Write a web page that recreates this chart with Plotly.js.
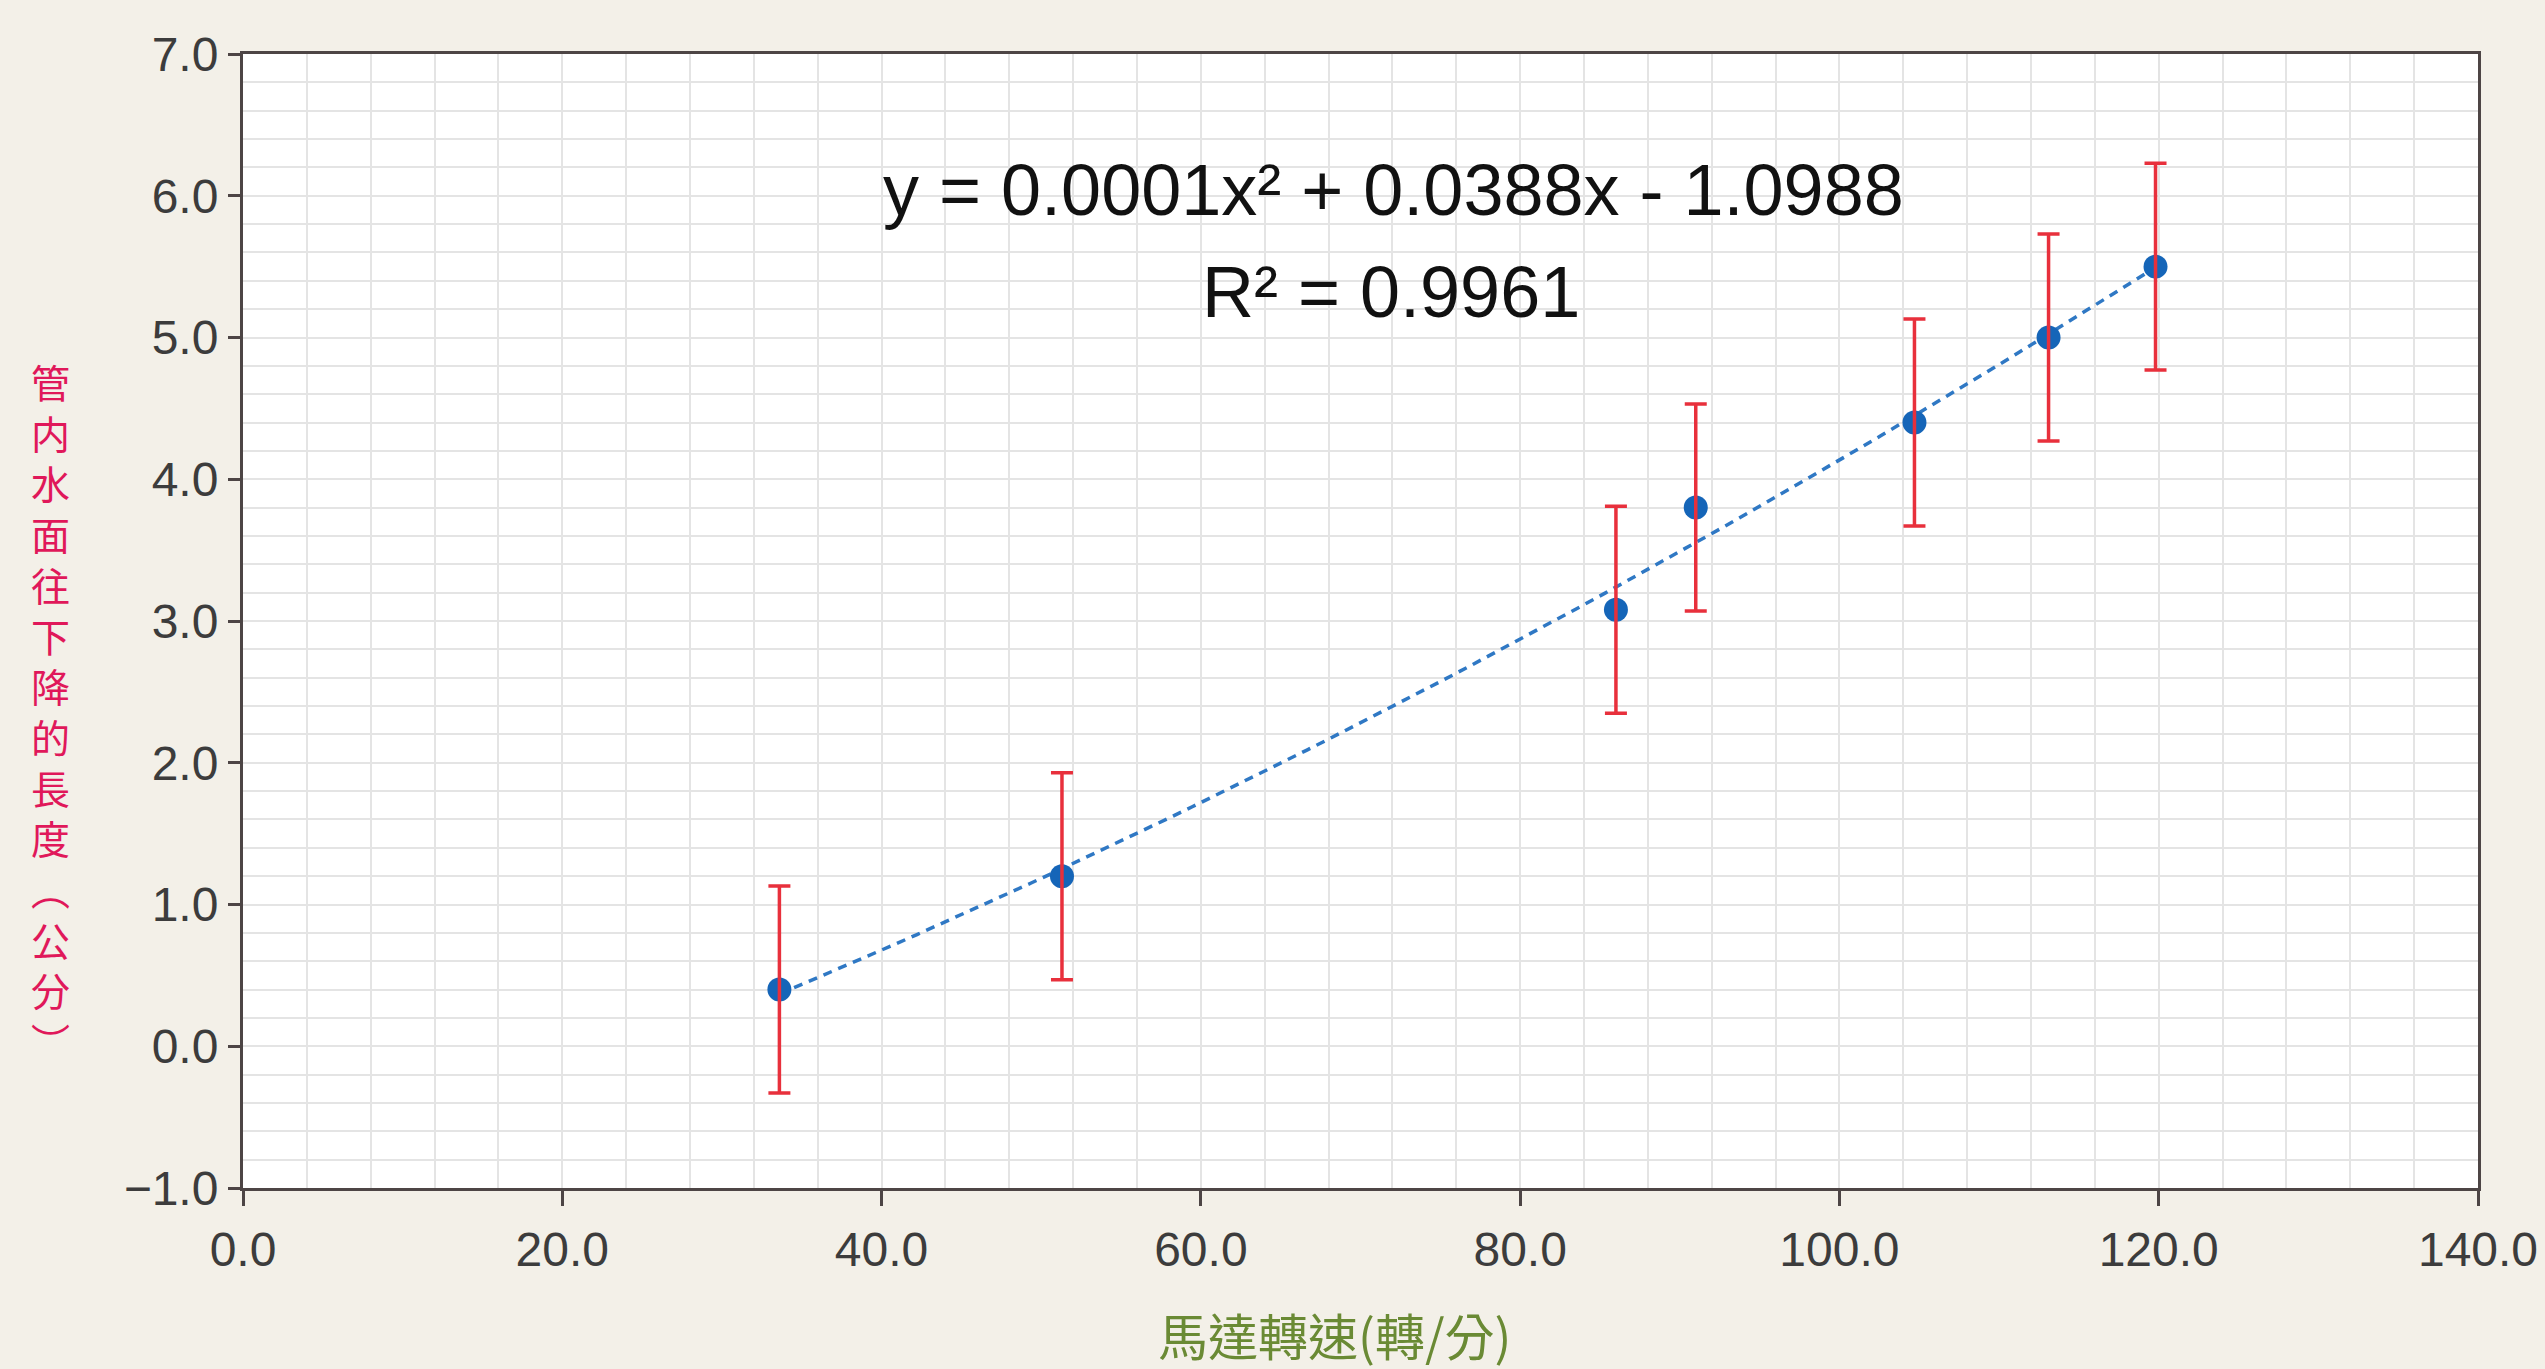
<!DOCTYPE html>
<html>
<head>
<meta charset="utf-8">
<script src="https://cdn.plot.ly/plotly-3.0.1.min.js"></script>
<style>
html,body{margin:0;padding:0;background:#f3f0e8;}
#chart{width:2545px;height:1369px;}
</style>
</head>
<body>
<div id="chart"></div>
<script>
// ---- data ----
var speed = [33.6, 51.3, 86.0, 91.0, 104.7, 113.1, 119.8];      // 馬達轉速 (轉/分)
var drop  = [0.40, 1.20, 3.08, 3.80, 4.40, 5.00, 5.50];        // 管内水面往下降的長度 (公分)
var errHalf = [0.73, 0.73, 0.73, 0.73, 0.73, 0.73, 0.73];       // error bar half-length
var equationText = "y = 0.0001x² + 0.0388x - 1.0988";
var r2Text = "R² = 0.9961";
var xTitle = "馬達轉速(轉/分)";
var yTitleChars = ["管","内","水","面","往","下","降","的","長","度","︵","公","分","︶"];

// ---- quadratic least-squares trendline computed from the data ----
function quadFit(xs, ys) {
  var n = xs.length, s = [0,0,0,0,0], t = [0,0,0];
  for (var i = 0; i < n; i++) {
    var p = 1;
    for (var k = 0; k < 5; k++) { s[k] += p; if (k < 3) t[k] += p * ys[i]; p *= xs[i]; }
  }
  var A = [[s[0],s[1],s[2],t[0]],[s[1],s[2],s[3],t[1]],[s[2],s[3],s[4],t[2]]];
  for (var c = 0; c < 3; c++) {
    for (var r = c + 1; r < 3; r++) {
      var f = A[r][c] / A[c][c];
      for (var j = c; j < 4; j++) A[r][j] -= f * A[c][j];
    }
  }
  var b = [0,0,0];
  for (var r2 = 2; r2 >= 0; r2--) {
    var sum = A[r2][3];
    for (var j2 = r2 + 1; j2 < 3; j2++) sum -= A[r2][j2] * b[j2];
    b[r2] = sum / A[r2][r2];
  }
  return b; // c0, c1, c2
}
var coef = quadFit(speed, drop);
var trendX = [], trendY = [];
var xmin = Math.min.apply(null, speed), xmax = Math.max.apply(null, speed);
for (var i = 0; i <= 60; i++) {
  var xv = xmin + (xmax - xmin) * i / 60;
  trendX.push(xv);
  trendY.push(coef[0] + coef[1] * xv + coef[2] * xv * xv);
}

var traces = [
  {
    x: trendX, y: trendY, mode: 'lines', type: 'scatter',
    line: {color: '#2f78c4', width: 3.5, dash: '9px,7px'},
    hoverinfo: 'skip', showlegend: false
  },
  {
    x: speed, y: drop, mode: 'markers', type: 'scatter',
    marker: {color: '#1565b8', size: 24},
    showlegend: false
  },
  {
    x: speed, y: drop, mode: 'markers', type: 'scatter',
    marker: {color: 'rgba(0,0,0,0)', size: 24},
    error_y: {type: 'data', array: errHalf, visible: true, color: '#e8303c', thickness: 3.5, width: 11},
    showlegend: false, hoverinfo: 'skip'
  }
];

var L = 243, R = 2478, T = 54, B = 1188;
var W = R - L, H = B - T;
function px2x(px) { return (px - L) / W; }
function py2y(py) { return (B - py) / H; }

var annotations = [
  {text: equationText, x: px2x(1393), y: py2y(190), xref: 'paper', yref: 'paper',
   xanchor: 'center', yanchor: 'middle', showarrow: false,
   font: {family: 'Liberation Sans, Arial, sans-serif', size: 72, color: '#111111'}},
  {text: r2Text, x: px2x(1391), y: py2y(292), xref: 'paper', yref: 'paper',
   xanchor: 'center', yanchor: 'middle', showarrow: false,
   font: {family: 'Liberation Sans, Arial, sans-serif', size: 72, color: '#111111'}},
  {text: xTitle, x: px2x(1334), y: py2y(1334), xref: 'paper', yref: 'paper',
   xanchor: 'center', yanchor: 'middle', showarrow: false,
   font: {family: 'Noto Sans CJK TC, sans-serif', size: 50, color: '#6a8a34'}},
  {text: yTitleChars.join('<br>'), x: px2x(50), y: py2y(710), xref: 'paper', yref: 'paper',
   xanchor: 'center', yanchor: 'middle', showarrow: false, align: 'center',
   font: {family: 'Noto Sans CJK JP, Noto Sans CJK TC, sans-serif', size: 39, color: '#e0185a'}}
];

var tickFont = {family: 'Liberation Sans, Arial, sans-serif', size: 48, color: '#3c3c3c'};
var layout = {
  width: 2545, height: 1369,
  paper_bgcolor: '#f3f0e8', plot_bgcolor: '#ffffff',
  margin: {l: L, r: 2545 - R, t: T, b: 1369 - B},
  showlegend: false,
  xaxis: {
    range: [0, 140], dtick: 20, tick0: 0, tickformat: '.1f',
    showgrid: true, gridcolor: '#e4e4e4', gridwidth: 2,
    minor: {dtick: 4, showgrid: true, gridcolor: '#e4e4e4', gridwidth: 2, ticks: ''},
    showline: true, linecolor: '#4d4545', linewidth: 3, mirror: true,
    ticks: 'outside', ticklen: 15, tickwidth: 3, tickcolor: '#4d4545',
    tickfont: tickFont, zeroline: false, ticklabelstandoff: 2
  },
  yaxis: {
    range: [-1, 7], dtick: 1, tick0: 0, tickformat: '.1f',
    showgrid: true, gridcolor: '#e4e4e4', gridwidth: 2,
    minor: {dtick: 0.2, showgrid: true, gridcolor: '#e4e4e4', gridwidth: 2, ticks: ''},
    showline: true, linecolor: '#4d4545', linewidth: 3, mirror: true,
    ticks: 'outside', ticklen: 12, tickwidth: 3, tickcolor: '#4d4545',
    tickfont: tickFont, zeroline: false, ticklabelstandoff: 0
  },
  annotations: annotations
};

Plotly.newPlot('chart', traces, layout, {displayModeBar: false, staticPlot: true});
</script>
</body>
</html>
